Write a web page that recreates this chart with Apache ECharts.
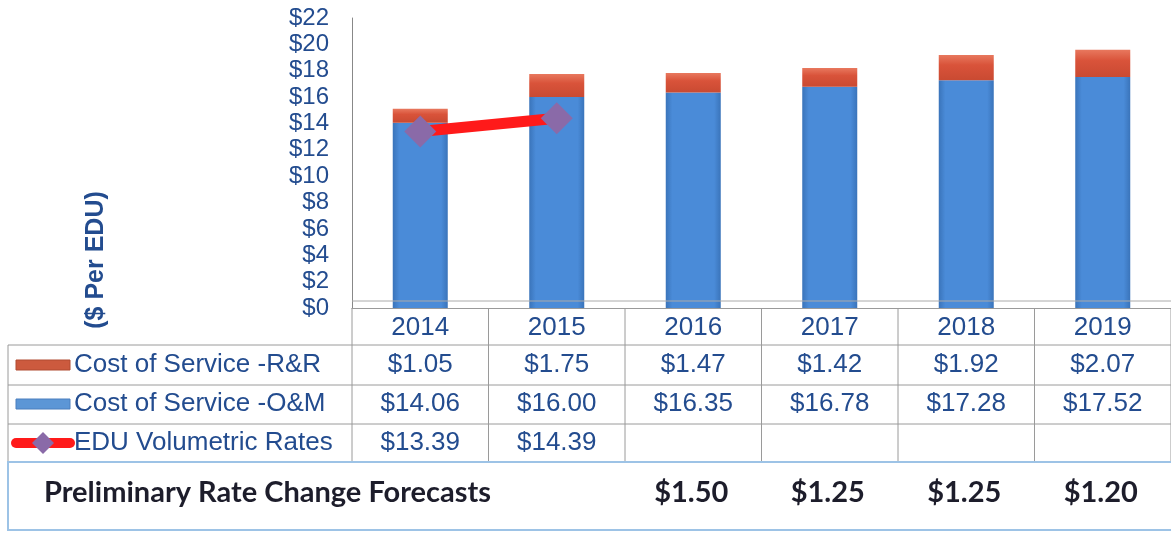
<!DOCTYPE html>
<html>
<head>
<meta charset="utf-8">
<script src="https://cdn.jsdelivr.net/npm/echarts@6/dist/echarts.min.js"></script>
<style>
html, body { margin: 0; padding: 0; background: #fff; }
#chart { width: 1171px; height: 533px; }
</style>
</head>
<body>
<div id="chart"></div>
<script>
var years = ['2014', '2015', '2016', '2017', '2018', '2019'];
var rrCost = [1.05, 1.75, 1.47, 1.42, 1.92, 2.07];
var omCost = [14.06, 16.00, 16.35, 16.78, 17.28, 17.52];
var eduRates = [13.39, 14.39, null, null, null, null];
var forecasts = [null, null, 1.50, 1.25, 1.25, 1.20];
var seriesNames = ['Cost of Service -R&R', 'Cost of Service -O&M', 'EDU Volumetric Rates'];

var textBlue = '#234C8F';
var gridGray = '#9a9a9a';
var font = '"Liberation Sans", Arial, sans-serif';
var boldFont = 'bold 29px Lato, "Open Sans", sans-serif';

var chart = echarts.init(document.getElementById('chart'));

function money(v) {
    return v == null ? '' : '$' + v.toFixed(2);
}

var blueFill = new echarts.graphic.LinearGradient(0, 0, 1, 0, [
    { offset: 0, color: '#3A74BA' },
    { offset: 0.12, color: '#4A8BD8' },
    { offset: 0.88, color: '#4A8BD8' },
    { offset: 1, color: '#3A74BA' }
]);
var redFill = new echarts.graphic.LinearGradient(0, 0, 0, 1, [
    { offset: 0, color: '#E8785E' },
    { offset: 0.4, color: '#D9533A' },
    { offset: 1, color: '#C94A32' }
]);

var option = {
    animation: false,
    grid: { left: 352, right: -8, top: 18, bottom: 225 },
    xAxis: {
        type: 'category',
        data: years,
        axisLine: { lineStyle: { color: gridGray, width: 1 } },
        axisTick: { show: false },
        axisLabel: { show: false }
    },
    yAxis: {
        type: 'value',
        min: 0,
        max: 22,
        interval: 2,
        splitLine: { show: false },
        axisLine: { show: true, lineStyle: { color: '#888', width: 1 } },
        axisTick: { show: false },
        axisLabel: {
            margin: 23,
            fontSize: 24,
            fontFamily: font,
            color: textBlue,
            formatter: function (v) { return '$' + v; }
        }
    },
    series: [
        {
            name: seriesNames[1],
            type: 'bar',
            stack: 'cost',
            barWidth: 55,
            data: omCost,
            itemStyle: { color: blueFill }
        },
        {
            name: seriesNames[0],
            type: 'bar',
            stack: 'cost',
            barWidth: 55,
            data: rrCost,
            itemStyle: { color: redFill }
        },
        {
            name: seriesNames[2],
            type: 'line',
            data: eduRates,
            z: 5,
            symbol: 'diamond',
            symbolSize: [32, 32],
            lineStyle: { color: '#FF1A1A', width: 11 },
            itemStyle: { color: '#8A6AA8' }
        }
    ]
};

chart.setOption(option);

// data table under the chart, aligned to the category axis
var c0 = chart.convertToPixel({ xAxisIndex: 0 }, years[0]);
var c1 = chart.convertToPixel({ xAxisIndex: 0 }, years[1]);
var band = c1 - c0;
var tableLeft = 8;
var axisX = c0 - band / 2;
var rowLines = [345, 385, 424, 462];
var headerY = 328;
var rowY = [365, 404, 443];
var els = [];

function hline(x1, x2, y, color) {
    els.push({ type: 'line', shape: { x1: x1, y1: y, x2: x2, y2: y }, style: { stroke: color || gridGray, lineWidth: 1 }, z: 10 });
}
function vline(x, y1, y2) {
    els.push({ type: 'line', shape: { x1: x, y1: y1, x2: x, y2: y2 }, style: { stroke: gridGray, lineWidth: 1 }, z: 10 });
}
function txt(x, y, s, opt) {
    opt = opt || {};
    els.push({
        type: 'text', x: x, y: y, z: 11, rotation: opt.rotation || 0,
        style: {
            text: s,
            fill: opt.color || textBlue,
            font: opt.font || ('26px ' + font),
            align: opt.align || 'center',
            verticalAlign: 'middle'
        }
    });
}

hline(axisX, 1180, 301, '#aaa');
rowLines.slice(0, 3).forEach(function (y) { hline(tableLeft, 1180, y); });
vline(tableLeft, rowLines[0], rowLines[3]);
for (var i = 0; i <= years.length; i++) {
    vline(axisX + i * band, 308, rowLines[3]);
}

years.forEach(function (y, i) {
    var cx = c0 + i * band;
    txt(cx, headerY, y);
    txt(cx, rowY[0], money(rrCost[i]));
    txt(cx, rowY[1], money(omCost[i]));
    txt(cx, rowY[2], money(eduRates[i]));
    if (forecasts[i] != null) {
        txt(cx - 2, 493, money(forecasts[i]), { color: '#1d1d2b', font: boldFont });
    }
});

// legend keys in the first column
els.push({ type: 'rect', shape: { x: 16, y: rowY[0] - 5, width: 54, height: 10 }, style: { fill: '#CC5A3E', stroke: '#B04A30', lineWidth: 1 }, z: 11 });
els.push({ type: 'rect', shape: { x: 16, y: rowY[1] - 5, width: 54, height: 10 }, style: { fill: '#5C96D6', stroke: '#4A7FBE', lineWidth: 1 }, z: 11 });
els.push({ type: 'line', shape: { x1: 16, y1: rowY[2], x2: 70, y2: rowY[2] }, style: { stroke: '#FF1A1A', lineWidth: 10, lineCap: 'round' }, z: 11 });
els.push({ type: 'polygon', shape: { points: [[43, rowY[2] - 11], [54, rowY[2]], [43, rowY[2] + 11], [32, rowY[2]]] }, style: { fill: '#8A6AA8' }, z: 12 });
seriesNames.forEach(function (n, i) {
    txt(74, rowY[i], n, { align: 'left' });
});

// forecast box
els.push({ type: 'rect', shape: { x: tableLeft, y: rowLines[3], width: 1180, height: 68 }, style: { fill: 'none', stroke: '#9DC3E6', lineWidth: 2 }, z: 10 });
txt(44, 493, 'Preliminary Rate Change Forecasts', { align: 'left', color: '#1d1d2b', font: boldFont });

// y axis title
txt(96, 260, '($ Per EDU)', { rotation: Math.PI / 2, font: 'bold 25px ' + font });

chart.setOption({ graphic: { elements: els } });
</script>
</body>
</html>
